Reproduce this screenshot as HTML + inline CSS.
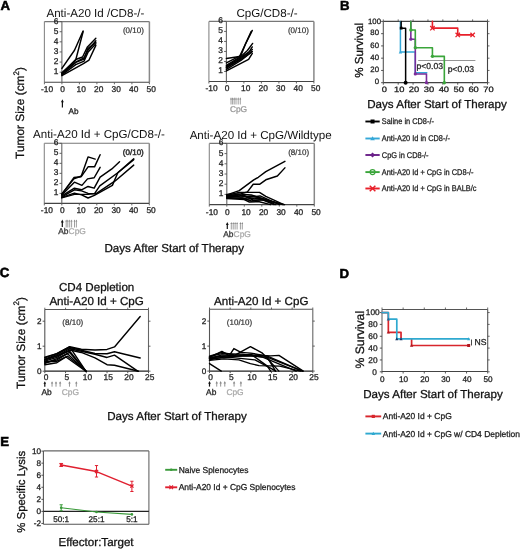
<!DOCTYPE html>
<html><head><meta charset="utf-8"><style>
html,body{margin:0;padding:0;background:#fff;}
body{width:520px;height:549px;overflow:hidden;}
svg{display:block;font-family:"Liberation Sans", sans-serif;will-change:transform;text-rendering:geometricPrecision;}
</style></head><body>
<svg width="520" height="549" viewBox="0 0 520 549">
<rect width="520" height="549" fill="#fff"/>
<text x="0.50" y="10.03" font-size="13.2" text-anchor="start" fill="#000" font-weight="bold"  stroke="#000" stroke-width="0.55">A</text>
<text x="340.00" y="10.33" font-size="13.2" text-anchor="start" fill="#000" font-weight="bold"  stroke="#000" stroke-width="0.55">B</text>
<text x="-0.30" y="277.33" font-size="13.2" text-anchor="start" fill="#000" font-weight="bold"  stroke="#000" stroke-width="0.55">C</text>
<text x="339.50" y="277.83" font-size="13.2" text-anchor="start" fill="#000" font-weight="bold"  stroke="#000" stroke-width="0.55">D</text>
<text x="0.20" y="446.13" font-size="13.2" text-anchor="start" fill="#000" font-weight="bold"  stroke="#000" stroke-width="0.55">E</text>
<line x1="44.40" y1="21.60" x2="149.40" y2="21.60" stroke="#777" stroke-width="1.1" />
<line x1="44.40" y1="21.60" x2="44.40" y2="82.30" stroke="#888" stroke-width="1.1" />
<line x1="149.40" y1="21.60" x2="149.40" y2="82.30" stroke="#888" stroke-width="1.5" />
<line x1="44.40" y1="82.30" x2="149.40" y2="82.30" stroke="#444" stroke-width="1.1" />
<line x1="61.90" y1="21.60" x2="61.90" y2="82.30" stroke="#666" stroke-width="1.1" />
<line x1="59.60" y1="72.18" x2="61.90" y2="72.18" stroke="#555" stroke-width="0.9" />
<text x="58.50" y="74.19" font-size="8.4" text-anchor="end" fill="#222" font-weight="normal"  stroke="#222" stroke-width="0.28">1</text>
<line x1="59.60" y1="62.07" x2="61.90" y2="62.07" stroke="#555" stroke-width="0.9" />
<text x="58.50" y="64.07" font-size="8.4" text-anchor="end" fill="#222" font-weight="normal"  stroke="#222" stroke-width="0.28">2</text>
<line x1="59.60" y1="51.95" x2="61.90" y2="51.95" stroke="#555" stroke-width="0.9" />
<text x="58.50" y="53.96" font-size="8.4" text-anchor="end" fill="#222" font-weight="normal"  stroke="#222" stroke-width="0.28">3</text>
<line x1="59.60" y1="41.83" x2="61.90" y2="41.83" stroke="#555" stroke-width="0.9" />
<text x="58.50" y="43.84" font-size="8.4" text-anchor="end" fill="#222" font-weight="normal"  stroke="#222" stroke-width="0.28">4</text>
<line x1="59.60" y1="31.72" x2="61.90" y2="31.72" stroke="#555" stroke-width="0.9" />
<text x="58.50" y="33.72" font-size="8.4" text-anchor="end" fill="#222" font-weight="normal"  stroke="#222" stroke-width="0.28">5</text>
<line x1="59.60" y1="21.60" x2="61.90" y2="21.60" stroke="#555" stroke-width="0.9" />
<text x="58.50" y="23.61" font-size="8.4" text-anchor="end" fill="#222" font-weight="normal"  stroke="#222" stroke-width="0.28">6</text>
<line x1="44.40" y1="82.30" x2="44.40" y2="84.30" stroke="#555" stroke-width="0.9" />
<text x="47.00" y="92.21" font-size="8.4" text-anchor="middle" fill="#222" font-weight="normal"  stroke="#222" stroke-width="0.28">-10</text>
<line x1="61.90" y1="82.30" x2="61.90" y2="84.30" stroke="#555" stroke-width="0.9" />
<text x="62.50" y="92.21" font-size="8.4" text-anchor="middle" fill="#222" font-weight="normal"  stroke="#222" stroke-width="0.28">0</text>
<line x1="79.40" y1="82.30" x2="79.40" y2="84.30" stroke="#555" stroke-width="0.9" />
<text x="81.20" y="92.21" font-size="8.4" text-anchor="middle" fill="#222" font-weight="normal"  stroke="#222" stroke-width="0.28">10</text>
<line x1="96.90" y1="82.30" x2="96.90" y2="84.30" stroke="#555" stroke-width="0.9" />
<text x="98.70" y="92.21" font-size="8.4" text-anchor="middle" fill="#222" font-weight="normal"  stroke="#222" stroke-width="0.28">20</text>
<line x1="114.40" y1="82.30" x2="114.40" y2="84.30" stroke="#555" stroke-width="0.9" />
<text x="116.20" y="92.21" font-size="8.4" text-anchor="middle" fill="#222" font-weight="normal"  stroke="#222" stroke-width="0.28">30</text>
<line x1="131.90" y1="82.30" x2="131.90" y2="84.30" stroke="#555" stroke-width="0.9" />
<text x="133.70" y="92.21" font-size="8.4" text-anchor="middle" fill="#222" font-weight="normal"  stroke="#222" stroke-width="0.28">40</text>
<line x1="149.40" y1="82.30" x2="149.40" y2="84.30" stroke="#555" stroke-width="0.9" />
<text x="151.20" y="92.21" font-size="8.4" text-anchor="middle" fill="#222" font-weight="normal"  stroke="#222" stroke-width="0.28">50</text>
<polyline points="61.90,68.44 74.50,50.23 83.08,31.01" fill="none" stroke="#000" stroke-width="1.45" stroke-linejoin="round" stroke-linecap="round" />
<polyline points="61.90,72.69 75.72,60.04 83.08,31.72" fill="none" stroke="#000" stroke-width="1.45" stroke-linejoin="round" stroke-linecap="round" />
<polyline points="61.90,73.70 75.72,59.54 82.55,57.01 87.45,46.89 95.85,38.29" fill="none" stroke="#000" stroke-width="1.45" stroke-linejoin="round" stroke-linecap="round" />
<polyline points="61.90,74.21 75.72,62.37 84.12,59.13 87.80,48.61 95.85,42.34" fill="none" stroke="#000" stroke-width="1.45" stroke-linejoin="round" stroke-linecap="round" />
<polyline points="61.90,75.02 75.72,64.60 84.12,61.05 88.15,51.95 95.85,43.86" fill="none" stroke="#000" stroke-width="1.45" stroke-linejoin="round" stroke-linecap="round" />
<polyline points="61.90,75.72 83.42,63.58 89.03,60.04 95.85,45.37" fill="none" stroke="#000" stroke-width="1.45" stroke-linejoin="round" stroke-linecap="round" />
<polyline points="61.90,73.19 75.72,62.07 83.78,58.02 88.15,49.93 95.85,40.82" fill="none" stroke="#000" stroke-width="1.45" stroke-linejoin="round" stroke-linecap="round" />
<text x="95.40" y="17.30" font-size="11.6" text-anchor="middle" fill="#111" font-weight="normal" >Anti-A20 Id /CD8-/-</text>
<text x="133.40" y="33.46" font-size="8" text-anchor="middle" fill="#333" font-weight="normal"  stroke="#333" stroke-width="0.2">(0/10)</text>
<line x1="208.90" y1="21.40" x2="313.90" y2="21.40" stroke="#777" stroke-width="1.1" />
<line x1="208.90" y1="21.40" x2="208.90" y2="81.50" stroke="#888" stroke-width="1.1" />
<line x1="313.90" y1="21.40" x2="313.90" y2="81.50" stroke="#888" stroke-width="1.5" />
<line x1="208.90" y1="81.50" x2="313.90" y2="81.50" stroke="#444" stroke-width="1.1" />
<line x1="226.40" y1="21.40" x2="226.40" y2="81.50" stroke="#666" stroke-width="1.1" />
<line x1="224.10" y1="71.48" x2="226.40" y2="71.48" stroke="#555" stroke-width="0.9" />
<text x="223.00" y="73.49" font-size="8.4" text-anchor="end" fill="#222" font-weight="normal"  stroke="#222" stroke-width="0.28">1</text>
<line x1="224.10" y1="61.47" x2="226.40" y2="61.47" stroke="#555" stroke-width="0.9" />
<text x="223.00" y="63.47" font-size="8.4" text-anchor="end" fill="#222" font-weight="normal"  stroke="#222" stroke-width="0.28">2</text>
<line x1="224.10" y1="51.45" x2="226.40" y2="51.45" stroke="#555" stroke-width="0.9" />
<text x="223.00" y="53.46" font-size="8.4" text-anchor="end" fill="#222" font-weight="normal"  stroke="#222" stroke-width="0.28">3</text>
<line x1="224.10" y1="41.43" x2="226.40" y2="41.43" stroke="#555" stroke-width="0.9" />
<text x="223.00" y="43.44" font-size="8.4" text-anchor="end" fill="#222" font-weight="normal"  stroke="#222" stroke-width="0.28">4</text>
<line x1="224.10" y1="31.42" x2="226.40" y2="31.42" stroke="#555" stroke-width="0.9" />
<text x="223.00" y="33.42" font-size="8.4" text-anchor="end" fill="#222" font-weight="normal"  stroke="#222" stroke-width="0.28">5</text>
<line x1="224.10" y1="21.40" x2="226.40" y2="21.40" stroke="#555" stroke-width="0.9" />
<text x="223.00" y="23.41" font-size="8.4" text-anchor="end" fill="#222" font-weight="normal"  stroke="#222" stroke-width="0.28">6</text>
<line x1="208.90" y1="81.50" x2="208.90" y2="83.50" stroke="#555" stroke-width="0.9" />
<text x="211.50" y="91.41" font-size="8.4" text-anchor="middle" fill="#222" font-weight="normal"  stroke="#222" stroke-width="0.28">-10</text>
<line x1="226.40" y1="81.50" x2="226.40" y2="83.50" stroke="#555" stroke-width="0.9" />
<text x="227.00" y="91.41" font-size="8.4" text-anchor="middle" fill="#222" font-weight="normal"  stroke="#222" stroke-width="0.28">0</text>
<line x1="243.90" y1="81.50" x2="243.90" y2="83.50" stroke="#555" stroke-width="0.9" />
<text x="245.70" y="91.41" font-size="8.4" text-anchor="middle" fill="#222" font-weight="normal"  stroke="#222" stroke-width="0.28">10</text>
<line x1="261.40" y1="81.50" x2="261.40" y2="83.50" stroke="#555" stroke-width="0.9" />
<text x="263.20" y="91.41" font-size="8.4" text-anchor="middle" fill="#222" font-weight="normal"  stroke="#222" stroke-width="0.28">20</text>
<line x1="278.90" y1="81.50" x2="278.90" y2="83.50" stroke="#555" stroke-width="0.9" />
<text x="280.70" y="91.41" font-size="8.4" text-anchor="middle" fill="#222" font-weight="normal"  stroke="#222" stroke-width="0.28">30</text>
<line x1="296.40" y1="81.50" x2="296.40" y2="83.50" stroke="#555" stroke-width="0.9" />
<text x="298.20" y="91.41" font-size="8.4" text-anchor="middle" fill="#222" font-weight="normal"  stroke="#222" stroke-width="0.28">40</text>
<line x1="313.90" y1="81.50" x2="313.90" y2="83.50" stroke="#555" stroke-width="0.9" />
<text x="315.70" y="91.41" font-size="8.4" text-anchor="middle" fill="#222" font-weight="normal"  stroke="#222" stroke-width="0.28">50</text>
<polyline points="226.40,58.46 239.53,56.46 244.78,45.44 252.30,30.41" fill="none" stroke="#000" stroke-width="1.45" stroke-linejoin="round" stroke-linecap="round" />
<polyline points="226.40,62.97 240.93,55.46 245.65,43.44 251.25,31.42" fill="none" stroke="#000" stroke-width="1.45" stroke-linejoin="round" stroke-linecap="round" />
<polyline points="226.40,65.47 240.93,56.46 247.40,50.45 252.65,43.44" fill="none" stroke="#000" stroke-width="1.45" stroke-linejoin="round" stroke-linecap="round" />
<polyline points="226.40,66.47 240.93,57.46 249.15,51.95 252.30,46.94" fill="none" stroke="#000" stroke-width="1.45" stroke-linejoin="round" stroke-linecap="round" />
<polyline points="226.40,67.98 240.93,58.46 252.30,49.45" fill="none" stroke="#000" stroke-width="1.45" stroke-linejoin="round" stroke-linecap="round" />
<polyline points="226.40,69.48 240.93,60.46 251.78,51.95" fill="none" stroke="#000" stroke-width="1.45" stroke-linejoin="round" stroke-linecap="round" />
<polyline points="226.40,70.98 248.62,59.46 252.30,53.45" fill="none" stroke="#000" stroke-width="1.45" stroke-linejoin="round" stroke-linecap="round" />
<polyline points="226.40,67.48 240.93,59.46 252.30,51.45" fill="none" stroke="#000" stroke-width="1.45" stroke-linejoin="round" stroke-linecap="round" />
<text x="267.00" y="17.00" font-size="11.6" text-anchor="middle" fill="#111" font-weight="normal" >CpG/CD8-/-</text>
<text x="298.40" y="33.46" font-size="8" text-anchor="middle" fill="#333" font-weight="normal"  stroke="#333" stroke-width="0.2">(0/10)</text>
<line x1="44.30" y1="143.30" x2="149.30" y2="143.30" stroke="#777" stroke-width="1.1" />
<line x1="44.30" y1="143.30" x2="44.30" y2="203.40" stroke="#888" stroke-width="1.1" />
<line x1="149.30" y1="143.30" x2="149.30" y2="203.40" stroke="#888" stroke-width="1.5" />
<line x1="44.30" y1="203.40" x2="149.30" y2="203.40" stroke="#444" stroke-width="1.1" />
<line x1="61.80" y1="143.30" x2="61.80" y2="203.40" stroke="#666" stroke-width="1.1" />
<line x1="59.50" y1="193.38" x2="61.80" y2="193.38" stroke="#555" stroke-width="0.9" />
<text x="58.40" y="195.39" font-size="8.4" text-anchor="end" fill="#222" font-weight="normal"  stroke="#222" stroke-width="0.28">1</text>
<line x1="59.50" y1="183.37" x2="61.80" y2="183.37" stroke="#555" stroke-width="0.9" />
<text x="58.40" y="185.37" font-size="8.4" text-anchor="end" fill="#222" font-weight="normal"  stroke="#222" stroke-width="0.28">2</text>
<line x1="59.50" y1="173.35" x2="61.80" y2="173.35" stroke="#555" stroke-width="0.9" />
<text x="58.40" y="175.36" font-size="8.4" text-anchor="end" fill="#222" font-weight="normal"  stroke="#222" stroke-width="0.28">3</text>
<line x1="59.50" y1="163.33" x2="61.80" y2="163.33" stroke="#555" stroke-width="0.9" />
<text x="58.40" y="165.34" font-size="8.4" text-anchor="end" fill="#222" font-weight="normal"  stroke="#222" stroke-width="0.28">4</text>
<line x1="59.50" y1="153.32" x2="61.80" y2="153.32" stroke="#555" stroke-width="0.9" />
<text x="58.40" y="155.32" font-size="8.4" text-anchor="end" fill="#222" font-weight="normal"  stroke="#222" stroke-width="0.28">5</text>
<line x1="59.50" y1="143.30" x2="61.80" y2="143.30" stroke="#555" stroke-width="0.9" />
<text x="58.40" y="145.31" font-size="8.4" text-anchor="end" fill="#222" font-weight="normal"  stroke="#222" stroke-width="0.28">6</text>
<line x1="44.30" y1="203.40" x2="44.30" y2="205.40" stroke="#555" stroke-width="0.9" />
<text x="46.90" y="213.31" font-size="8.4" text-anchor="middle" fill="#222" font-weight="normal"  stroke="#222" stroke-width="0.28">-10</text>
<line x1="61.80" y1="203.40" x2="61.80" y2="205.40" stroke="#555" stroke-width="0.9" />
<text x="62.40" y="213.31" font-size="8.4" text-anchor="middle" fill="#222" font-weight="normal"  stroke="#222" stroke-width="0.28">0</text>
<line x1="79.30" y1="203.40" x2="79.30" y2="205.40" stroke="#555" stroke-width="0.9" />
<text x="81.10" y="213.31" font-size="8.4" text-anchor="middle" fill="#222" font-weight="normal"  stroke="#222" stroke-width="0.28">10</text>
<line x1="96.80" y1="203.40" x2="96.80" y2="205.40" stroke="#555" stroke-width="0.9" />
<text x="98.60" y="213.31" font-size="8.4" text-anchor="middle" fill="#222" font-weight="normal"  stroke="#222" stroke-width="0.28">20</text>
<line x1="114.30" y1="203.40" x2="114.30" y2="205.40" stroke="#555" stroke-width="0.9" />
<text x="116.10" y="213.31" font-size="8.4" text-anchor="middle" fill="#222" font-weight="normal"  stroke="#222" stroke-width="0.28">30</text>
<line x1="131.80" y1="203.40" x2="131.80" y2="205.40" stroke="#555" stroke-width="0.9" />
<text x="133.60" y="213.31" font-size="8.4" text-anchor="middle" fill="#222" font-weight="normal"  stroke="#222" stroke-width="0.28">40</text>
<line x1="149.30" y1="203.40" x2="149.30" y2="205.40" stroke="#555" stroke-width="0.9" />
<text x="151.10" y="213.31" font-size="8.4" text-anchor="middle" fill="#222" font-weight="normal"  stroke="#222" stroke-width="0.28">50</text>
<polyline points="61.80,194.39 73.88,177.56 81.05,176.66 88.05,156.92 95.22,159.13" fill="none" stroke="#000" stroke-width="1.45" stroke-linejoin="round" stroke-linecap="round" />
<polyline points="61.80,194.89 74.40,182.16 81.92,185.37 87.52,178.86 94.17,177.76 100.12,167.34" fill="none" stroke="#000" stroke-width="1.45" stroke-linejoin="round" stroke-linecap="round" />
<polyline points="61.80,193.88 73.88,178.86 81.58,176.05 88.05,166.84 94.53,166.84 100.12,154.72" fill="none" stroke="#000" stroke-width="1.45" stroke-linejoin="round" stroke-linecap="round" />
<polyline points="61.80,195.89 74.40,188.17 81.58,189.78 88.05,186.47 94.17,188.17 100.12,177.16 111.85,168.94 119.55,161.83" fill="none" stroke="#000" stroke-width="1.45" stroke-linejoin="round" stroke-linecap="round" />
<polyline points="61.80,196.89 74.40,189.78 81.58,190.88 88.05,193.38 94.35,193.88 99.78,185.87 117.80,172.75 133.72,159.63" fill="none" stroke="#000" stroke-width="1.45" stroke-linejoin="round" stroke-linecap="round" />
<polyline points="61.80,197.39 74.40,193.08 81.58,194.89 88.05,197.99 94.35,195.39 112.38,185.37 117.80,172.75 133.72,158.83" fill="none" stroke="#000" stroke-width="1.45" stroke-linejoin="round" stroke-linecap="round" />
<polyline points="61.80,197.89 74.40,194.39 88.05,194.39 96.45,193.38 115.17,180.96 133.72,165.14" fill="none" stroke="#000" stroke-width="1.45" stroke-linejoin="round" stroke-linecap="round" />
<text x="99.00" y="138.40" font-size="11.6" text-anchor="middle" fill="#111" font-weight="normal" >Anti-A20 Id + CpG/CD8-/-</text>
<text x="133.30" y="155.46" font-size="8" text-anchor="middle" fill="#333" font-weight="normal"  stroke="#333" stroke-width="0.5">(0/10)</text>
<line x1="209.30" y1="143.40" x2="314.30" y2="143.40" stroke="#777" stroke-width="1.1" />
<line x1="209.30" y1="143.40" x2="209.30" y2="204.60" stroke="#888" stroke-width="1.1" />
<line x1="314.30" y1="143.40" x2="314.30" y2="204.60" stroke="#888" stroke-width="1.5" />
<line x1="209.30" y1="204.60" x2="314.30" y2="204.60" stroke="#444" stroke-width="1.1" />
<line x1="226.80" y1="143.40" x2="226.80" y2="204.60" stroke="#666" stroke-width="1.1" />
<line x1="224.50" y1="194.40" x2="226.80" y2="194.40" stroke="#555" stroke-width="0.9" />
<text x="223.40" y="196.41" font-size="8.4" text-anchor="end" fill="#222" font-weight="normal"  stroke="#222" stroke-width="0.28">1</text>
<line x1="224.50" y1="184.20" x2="226.80" y2="184.20" stroke="#555" stroke-width="0.9" />
<text x="223.40" y="186.21" font-size="8.4" text-anchor="end" fill="#222" font-weight="normal"  stroke="#222" stroke-width="0.28">2</text>
<line x1="224.50" y1="174.00" x2="226.80" y2="174.00" stroke="#555" stroke-width="0.9" />
<text x="223.40" y="176.01" font-size="8.4" text-anchor="end" fill="#222" font-weight="normal"  stroke="#222" stroke-width="0.28">3</text>
<line x1="224.50" y1="163.80" x2="226.80" y2="163.80" stroke="#555" stroke-width="0.9" />
<text x="223.40" y="165.81" font-size="8.4" text-anchor="end" fill="#222" font-weight="normal"  stroke="#222" stroke-width="0.28">4</text>
<line x1="224.50" y1="153.60" x2="226.80" y2="153.60" stroke="#555" stroke-width="0.9" />
<text x="223.40" y="155.61" font-size="8.4" text-anchor="end" fill="#222" font-weight="normal"  stroke="#222" stroke-width="0.28">5</text>
<line x1="224.50" y1="143.40" x2="226.80" y2="143.40" stroke="#555" stroke-width="0.9" />
<text x="223.40" y="145.41" font-size="8.4" text-anchor="end" fill="#222" font-weight="normal"  stroke="#222" stroke-width="0.28">6</text>
<line x1="209.30" y1="204.60" x2="209.30" y2="206.60" stroke="#555" stroke-width="0.9" />
<text x="211.90" y="214.51" font-size="8.4" text-anchor="middle" fill="#222" font-weight="normal"  stroke="#222" stroke-width="0.28">-10</text>
<line x1="226.80" y1="204.60" x2="226.80" y2="206.60" stroke="#555" stroke-width="0.9" />
<text x="227.40" y="214.51" font-size="8.4" text-anchor="middle" fill="#222" font-weight="normal"  stroke="#222" stroke-width="0.28">0</text>
<line x1="244.30" y1="204.60" x2="244.30" y2="206.60" stroke="#555" stroke-width="0.9" />
<text x="246.10" y="214.51" font-size="8.4" text-anchor="middle" fill="#222" font-weight="normal"  stroke="#222" stroke-width="0.28">10</text>
<line x1="261.80" y1="204.60" x2="261.80" y2="206.60" stroke="#555" stroke-width="0.9" />
<text x="263.60" y="214.51" font-size="8.4" text-anchor="middle" fill="#222" font-weight="normal"  stroke="#222" stroke-width="0.28">20</text>
<line x1="279.30" y1="204.60" x2="279.30" y2="206.60" stroke="#555" stroke-width="0.9" />
<text x="281.10" y="214.51" font-size="8.4" text-anchor="middle" fill="#222" font-weight="normal"  stroke="#222" stroke-width="0.28">30</text>
<line x1="296.80" y1="204.60" x2="296.80" y2="206.60" stroke="#555" stroke-width="0.9" />
<text x="298.60" y="214.51" font-size="8.4" text-anchor="middle" fill="#222" font-weight="normal"  stroke="#222" stroke-width="0.28">40</text>
<line x1="314.30" y1="204.60" x2="314.30" y2="206.60" stroke="#555" stroke-width="0.9" />
<text x="316.10" y="214.51" font-size="8.4" text-anchor="middle" fill="#222" font-weight="normal"  stroke="#222" stroke-width="0.28">50</text>
<polyline points="226.80,194.91 239.23,190.63 253.75,179.81 258.30,177.26 265.82,171.55 284.90,161.35" fill="none" stroke="#000" stroke-width="1.45" stroke-linejoin="round" stroke-linecap="round" />
<polyline points="226.80,195.93 240.80,193.89 247.45,191.85 253.23,184.30 259.53,184.30 265.82,179.81 277.38,176.04 284.90,167.88" fill="none" stroke="#000" stroke-width="1.45" stroke-linejoin="round" stroke-linecap="round" />
<polyline points="226.80,195.42 239.05,192.36 259.53,192.36 265.82,196.34 283.85,204.60" fill="none" stroke="#000" stroke-width="1.45" stroke-linejoin="round" stroke-linecap="round" />
<polyline points="226.80,196.44 239.05,194.91 247.80,197.46 260.05,195.93 279.30,204.60" fill="none" stroke="#000" stroke-width="1.45" stroke-linejoin="round" stroke-linecap="round" />
<polyline points="226.80,196.95 244.30,195.42 253.05,200.01 265.30,200.01 275.80,204.60" fill="none" stroke="#000" stroke-width="1.45" stroke-linejoin="round" stroke-linecap="round" />
<polyline points="226.80,198.48 244.30,199.50 249.38,202.05 258.30,201.54 270.55,204.60" fill="none" stroke="#000" stroke-width="1.45" stroke-linejoin="round" stroke-linecap="round" />
<polyline points="226.80,195.42 240.80,196.95 253.05,195.93 265.30,199.50 282.80,204.60" fill="none" stroke="#000" stroke-width="1.45" stroke-linejoin="round" stroke-linecap="round" />
<polyline points="226.80,197.46 247.80,198.99 256.55,197.97 270.55,201.54 284.55,204.60" fill="none" stroke="#000" stroke-width="1.45" stroke-linejoin="round" stroke-linecap="round" />
<polyline points="226.80,194.40 237.30,193.89 251.30,194.91 261.80,198.48 279.30,203.58" fill="none" stroke="#000" stroke-width="1.45" stroke-linejoin="round" stroke-linecap="round" />
<polyline points="226.80,197.97 242.55,197.97 251.30,201.03 261.80,199.50 274.05,204.60" fill="none" stroke="#000" stroke-width="1.45" stroke-linejoin="round" stroke-linecap="round" />
<text x="260.70" y="138.60" font-size="11.6" text-anchor="middle" fill="#111" font-weight="normal" >Anti-A20 Id + CpG/Wildtype</text>
<text x="298.60" y="155.46" font-size="8" text-anchor="middle" fill="#333" font-weight="normal"  stroke="#333" stroke-width="0.2">(8/10)</text>
<line x1="62.40" y1="101.00" x2="62.40" y2="107.40" stroke="#111" stroke-width="1.2" />
<polygon points="61.00,102.20 62.40,99.20 63.80,102.20" fill="#111"/>
<text x="73.60" y="113.74" font-size="8.2" text-anchor="middle" fill="#222" font-weight="normal"  stroke="#222" stroke-width="0.28">Ab</text>
<line x1="231.00" y1="98.62" x2="231.00" y2="104.50" stroke="#888" stroke-width="0.8" />
<polygon points="230.10,99.50 231.00,97.30 231.90,99.50" fill="#888"/>
<line x1="232.60" y1="98.62" x2="232.60" y2="104.50" stroke="#888" stroke-width="0.8" />
<polygon points="231.70,99.50 232.60,97.30 233.50,99.50" fill="#888"/>
<line x1="234.20" y1="98.62" x2="234.20" y2="104.50" stroke="#888" stroke-width="0.8" />
<polygon points="233.30,99.50 234.20,97.30 235.10,99.50" fill="#888"/>
<line x1="236.00" y1="98.62" x2="236.00" y2="104.50" stroke="#888" stroke-width="0.8" />
<polygon points="235.10,99.50 236.00,97.30 236.90,99.50" fill="#888"/>
<line x1="238.20" y1="98.62" x2="238.20" y2="104.50" stroke="#888" stroke-width="0.8" />
<polygon points="237.30,99.50 238.20,97.30 239.10,99.50" fill="#888"/>
<line x1="240.30" y1="98.62" x2="240.30" y2="104.50" stroke="#888" stroke-width="0.8" />
<polygon points="239.40,99.50 240.30,97.30 241.20,99.50" fill="#888"/>
<text x="238.50" y="111.71" font-size="8.4" text-anchor="middle" fill="#999" font-weight="normal"  stroke="#999" stroke-width="0.28">CpG</text>
<line x1="62.30" y1="221.20" x2="62.30" y2="227.00" stroke="#111" stroke-width="1.2" />
<polygon points="60.90,222.40 62.30,219.40 63.70,222.40" fill="#111"/>
<line x1="66.20" y1="220.72" x2="66.20" y2="227.50" stroke="#888" stroke-width="0.8" />
<polygon points="65.30,221.60 66.20,219.40 67.10,221.60" fill="#888"/>
<line x1="67.80" y1="220.72" x2="67.80" y2="227.50" stroke="#888" stroke-width="0.8" />
<polygon points="66.90,221.60 67.80,219.40 68.70,221.60" fill="#888"/>
<line x1="69.70" y1="220.72" x2="69.70" y2="227.50" stroke="#888" stroke-width="0.8" />
<polygon points="68.80,221.60 69.70,219.40 70.60,221.60" fill="#888"/>
<line x1="71.60" y1="220.72" x2="71.60" y2="227.50" stroke="#888" stroke-width="0.8" />
<polygon points="70.70,221.60 71.60,219.40 72.50,221.60" fill="#888"/>
<line x1="74.50" y1="220.72" x2="74.50" y2="227.50" stroke="#888" stroke-width="0.8" />
<polygon points="73.60,221.60 74.50,219.40 75.40,221.60" fill="#888"/>
<line x1="76.40" y1="220.72" x2="76.40" y2="227.50" stroke="#888" stroke-width="0.8" />
<polygon points="75.50,221.60 76.40,219.40 77.30,221.60" fill="#888"/>
<text x="63.30" y="234.21" font-size="8.4" text-anchor="middle" fill="#333" font-weight="normal"  stroke="#333" stroke-width="0.28">Ab</text>
<text x="77.20" y="234.21" font-size="8.4" text-anchor="middle" fill="#aaa" font-weight="normal"  stroke="#aaa" stroke-width="0.28">CpG</text>
<line x1="227.30" y1="223.70" x2="227.30" y2="229.10" stroke="#111" stroke-width="1.2" />
<polygon points="225.90,224.90 227.30,221.90 228.70,224.90" fill="#111"/>
<line x1="231.30" y1="223.22" x2="231.30" y2="229.50" stroke="#888" stroke-width="0.8" />
<polygon points="230.40,224.10 231.30,221.90 232.20,224.10" fill="#888"/>
<line x1="233.20" y1="223.22" x2="233.20" y2="229.50" stroke="#888" stroke-width="0.8" />
<polygon points="232.30,224.10 233.20,221.90 234.10,224.10" fill="#888"/>
<line x1="235.10" y1="223.22" x2="235.10" y2="229.50" stroke="#888" stroke-width="0.8" />
<polygon points="234.20,224.10 235.10,221.90 236.00,224.10" fill="#888"/>
<line x1="237.10" y1="223.22" x2="237.10" y2="229.50" stroke="#888" stroke-width="0.8" />
<polygon points="236.20,224.10 237.10,221.90 238.00,224.10" fill="#888"/>
<line x1="240.40" y1="223.22" x2="240.40" y2="229.50" stroke="#888" stroke-width="0.8" />
<polygon points="239.50,224.10 240.40,221.90 241.30,224.10" fill="#888"/>
<line x1="242.30" y1="223.22" x2="242.30" y2="229.50" stroke="#888" stroke-width="0.8" />
<polygon points="241.40,224.10 242.30,221.90 243.20,224.10" fill="#888"/>
<text x="228.30" y="236.51" font-size="8.4" text-anchor="middle" fill="#333" font-weight="normal"  stroke="#333" stroke-width="0.28">Ab</text>
<text x="242.20" y="236.51" font-size="8.4" text-anchor="middle" fill="#aaa" font-weight="normal"  stroke="#aaa" stroke-width="0.28">CpG</text>
<text transform="translate(24.2,113) rotate(-90)" font-size="11.9" text-anchor="middle" fill="#111" stroke="#111" stroke-width="0.28">Tumor Size (cm<tspan font-size="8" dy="-5.2">2</tspan><tspan dy="5.2">)</tspan></text>
<text x="174.30" y="252.25" font-size="11.6" text-anchor="middle" fill="#111" font-weight="normal"  stroke="#111" stroke-width="0.28">Days After Start of Therapy</text>
<line x1="383.30" y1="21.40" x2="487.50" y2="21.40" stroke="#444" stroke-width="1.1" />
<line x1="487.50" y1="21.40" x2="487.50" y2="82.70" stroke="#444" stroke-width="1.1" />
<line x1="383.30" y1="21.40" x2="383.30" y2="82.70" stroke="#555" stroke-width="1.1" />
<line x1="383.30" y1="82.70" x2="487.50" y2="82.70" stroke="#444" stroke-width="1.2" />
<line x1="381.10" y1="82.70" x2="383.30" y2="82.70" stroke="#444" stroke-width="0.9" />
<line x1="487.50" y1="82.70" x2="489.50" y2="82.70" stroke="#444" stroke-width="0.8" />
<text x="379.00" y="84.39" font-size="7.8" text-anchor="end" fill="#222" font-weight="normal"  stroke="#222" stroke-width="0.28">0</text>
<line x1="381.10" y1="70.44" x2="383.30" y2="70.44" stroke="#444" stroke-width="0.9" />
<line x1="487.50" y1="70.44" x2="489.50" y2="70.44" stroke="#444" stroke-width="0.8" />
<text x="379.00" y="72.13" font-size="7.8" text-anchor="end" fill="#222" font-weight="normal"  stroke="#222" stroke-width="0.28">20</text>
<line x1="381.10" y1="58.18" x2="383.30" y2="58.18" stroke="#444" stroke-width="0.9" />
<line x1="487.50" y1="58.18" x2="489.50" y2="58.18" stroke="#444" stroke-width="0.8" />
<text x="379.00" y="59.87" font-size="7.8" text-anchor="end" fill="#222" font-weight="normal"  stroke="#222" stroke-width="0.28">40</text>
<line x1="381.10" y1="45.92" x2="383.30" y2="45.92" stroke="#444" stroke-width="0.9" />
<line x1="487.50" y1="45.92" x2="489.50" y2="45.92" stroke="#444" stroke-width="0.8" />
<text x="379.00" y="47.61" font-size="7.8" text-anchor="end" fill="#222" font-weight="normal"  stroke="#222" stroke-width="0.28">60</text>
<line x1="381.10" y1="33.66" x2="383.30" y2="33.66" stroke="#444" stroke-width="0.9" />
<line x1="487.50" y1="33.66" x2="489.50" y2="33.66" stroke="#444" stroke-width="0.8" />
<text x="379.00" y="35.35" font-size="7.8" text-anchor="end" fill="#222" font-weight="normal"  stroke="#222" stroke-width="0.28">80</text>
<line x1="381.10" y1="21.40" x2="383.30" y2="21.40" stroke="#444" stroke-width="0.9" />
<line x1="487.50" y1="21.40" x2="489.50" y2="21.40" stroke="#444" stroke-width="0.8" />
<text x="381.00" y="23.89" font-size="7.8" text-anchor="end" fill="#222" font-weight="normal"  stroke="#222" stroke-width="0.28">100</text>
<line x1="383.30" y1="82.70" x2="383.30" y2="84.70" stroke="#444" stroke-width="0.9" />
<line x1="383.30" y1="21.40" x2="383.30" y2="19.40" stroke="#444" stroke-width="0.8" />
<text x="0" y="0" transform="translate(384.30,92.39) scale(1.2,1)" font-size="7.8" text-anchor="middle" fill="#222" font-weight="normal"  stroke="#222" stroke-width="0.28">0</text>
<line x1="398.19" y1="82.70" x2="398.19" y2="84.70" stroke="#444" stroke-width="0.9" />
<line x1="398.19" y1="21.40" x2="398.19" y2="19.40" stroke="#444" stroke-width="0.8" />
<text x="0" y="0" transform="translate(399.19,92.39) scale(1.2,1)" font-size="7.8" text-anchor="middle" fill="#222" font-weight="normal"  stroke="#222" stroke-width="0.28">10</text>
<line x1="413.07" y1="82.70" x2="413.07" y2="84.70" stroke="#444" stroke-width="0.9" />
<line x1="413.07" y1="21.40" x2="413.07" y2="19.40" stroke="#444" stroke-width="0.8" />
<text x="0" y="0" transform="translate(414.07,92.39) scale(1.2,1)" font-size="7.8" text-anchor="middle" fill="#222" font-weight="normal"  stroke="#222" stroke-width="0.28">20</text>
<line x1="427.96" y1="82.70" x2="427.96" y2="84.70" stroke="#444" stroke-width="0.9" />
<line x1="427.96" y1="21.40" x2="427.96" y2="19.40" stroke="#444" stroke-width="0.8" />
<text x="0" y="0" transform="translate(428.96,92.39) scale(1.2,1)" font-size="7.8" text-anchor="middle" fill="#222" font-weight="normal"  stroke="#222" stroke-width="0.28">30</text>
<line x1="442.84" y1="82.70" x2="442.84" y2="84.70" stroke="#444" stroke-width="0.9" />
<line x1="442.84" y1="21.40" x2="442.84" y2="19.40" stroke="#444" stroke-width="0.8" />
<text x="0" y="0" transform="translate(443.84,92.39) scale(1.2,1)" font-size="7.8" text-anchor="middle" fill="#222" font-weight="normal"  stroke="#222" stroke-width="0.28">40</text>
<line x1="457.73" y1="82.70" x2="457.73" y2="84.70" stroke="#444" stroke-width="0.9" />
<line x1="457.73" y1="21.40" x2="457.73" y2="19.40" stroke="#444" stroke-width="0.8" />
<text x="0" y="0" transform="translate(458.73,92.39) scale(1.2,1)" font-size="7.8" text-anchor="middle" fill="#222" font-weight="normal"  stroke="#222" stroke-width="0.28">50</text>
<line x1="472.61" y1="82.70" x2="472.61" y2="84.70" stroke="#444" stroke-width="0.9" />
<line x1="472.61" y1="21.40" x2="472.61" y2="19.40" stroke="#444" stroke-width="0.8" />
<text x="0" y="0" transform="translate(473.61,92.39) scale(1.2,1)" font-size="7.8" text-anchor="middle" fill="#222" font-weight="normal"  stroke="#222" stroke-width="0.28">60</text>
<line x1="487.50" y1="82.70" x2="487.50" y2="84.70" stroke="#444" stroke-width="0.9" />
<line x1="487.50" y1="21.40" x2="487.50" y2="19.40" stroke="#444" stroke-width="0.8" />
<text x="0" y="0" transform="translate(488.50,92.39) scale(1.2,1)" font-size="7.8" text-anchor="middle" fill="#222" font-weight="normal"  stroke="#222" stroke-width="0.28">70</text>
<text transform="translate(362.6,50.4) rotate(-90)" font-size="11.6" text-anchor="middle" fill="#111" stroke="#111" stroke-width="0.28">% Survival</text>
<text x="437.00" y="108.45" font-size="11.6" text-anchor="middle" fill="#111" font-weight="normal"  stroke="#111" stroke-width="0.28">Days After Start of Therapy</text>
<line x1="418.20" y1="60.50" x2="475.40" y2="60.50" stroke="#888" stroke-width="0.9" />
<text x="429.70" y="69.28" font-size="8.6" text-anchor="middle" fill="#222" font-weight="normal"  stroke="#222" stroke-width="0.28">p&lt;0.03</text>
<text x="460.90" y="71.58" font-size="8.6" text-anchor="middle" fill="#222" font-weight="normal"  stroke="#222" stroke-width="0.28">p&lt;0.03</text>
<polyline points="400.42,21.40 400.42,21.40 400.42,52.05 415.30,52.05 415.30,72.71 426.77,72.71 426.77,72.71" fill="none" stroke="#35a8d8" stroke-width="1.5" stroke-linejoin="round" stroke-linecap="round" stroke-linecap="butt" stroke-linejoin="miter"/>
<polyline points="401.16,21.40 401.16,21.40 401.16,28.14 405.63,28.14 405.63,82.70" fill="none" stroke="#000" stroke-width="1.5" stroke-linejoin="round" stroke-linecap="round" stroke-linecap="butt" stroke-linejoin="miter"/>
<polyline points="410.84,21.40 410.84,21.40 410.84,39.18 415.30,39.18 415.30,73.93 426.47,73.93 426.47,82.70" fill="none" stroke="#7a2c9a" stroke-width="1.6" stroke-linejoin="round" stroke-linecap="round" stroke-linecap="butt" stroke-linejoin="miter"/>
<polyline points="410.84,21.40 410.84,21.40 410.84,29.98 415.30,29.98 415.30,47.76 432.42,47.76 432.42,56.34 444.33,56.34 444.33,82.70" fill="none" stroke="#3aa53a" stroke-width="1.6" stroke-linejoin="round" stroke-linecap="round" stroke-linecap="butt" stroke-linejoin="miter"/>
<polyline points="432.42,21.40 432.42,21.40 432.42,28.14 457.73,28.14 457.73,34.89 472.61,34.89 472.61,34.89" fill="none" stroke="#e8202a" stroke-width="1.6" stroke-linejoin="round" stroke-linecap="round" stroke-linecap="butt" stroke-linejoin="miter"/>
<rect x="399.76" y="26.74" width="2.8" height="2.8" fill="#000"/>
<circle cx="405.63" cy="82.70" r="2.0" fill="#000"/>
<polygon points="398.72,53.41 400.42,50.35 402.12,53.41" fill="#35a8d8"/>
<circle cx="410.84" cy="39.18" r="1.6" fill="#7a2c9a"/>
<circle cx="415.30" cy="73.93" r="1.6" fill="#7a2c9a"/>
<circle cx="426.47" cy="82.70" r="1.6" fill="#7a2c9a"/>
<circle cx="410.84" cy="29.98" r="1.7" fill="#3aa53a"/>
<circle cx="415.30" cy="47.76" r="1.7" fill="#3aa53a"/>
<circle cx="432.42" cy="56.34" r="1.7" fill="#3aa53a"/>
<circle cx="444.33" cy="82.70" r="1.7" fill="#3aa53a"/>
<line x1="430.22" y1="25.94" x2="434.62" y2="30.34" stroke="#e8202a" stroke-width="1.3" />
<line x1="430.22" y1="30.34" x2="434.62" y2="25.94" stroke="#e8202a" stroke-width="1.3" />
<line x1="455.53" y1="32.69" x2="459.93" y2="37.09" stroke="#e8202a" stroke-width="1.3" />
<line x1="455.53" y1="37.09" x2="459.93" y2="32.69" stroke="#e8202a" stroke-width="1.3" />
<line x1="470.41" y1="32.69" x2="474.81" y2="37.09" stroke="#e8202a" stroke-width="1.3" />
<line x1="470.41" y1="37.09" x2="474.81" y2="32.69" stroke="#e8202a" stroke-width="1.3" />
<line x1="365.40" y1="121.50" x2="379.70" y2="121.50" stroke="#000" stroke-width="1.9" />
<rect x="370.55" y="119.50" width="4.0" height="4.0" fill="#000"/>
<text x="0" y="0" transform="translate(381.80,124.47) scale(0.89,1)" font-size="8.3" text-anchor="start" fill="#222" font-weight="normal"  stroke="#222" stroke-width="0.28">Saline in CD8-/-</text>
<line x1="365.40" y1="138.50" x2="379.70" y2="138.50" stroke="#35a8d8" stroke-width="1.9" />
<polygon points="370.25,140.34 372.55,136.20 374.85,140.34" fill="#35a8d8"/>
<text x="0" y="0" transform="translate(381.80,141.47) scale(0.89,1)" font-size="8.3" text-anchor="start" fill="#222" font-weight="normal"  stroke="#222" stroke-width="0.28">Anti-A20 Id in CD8-/-</text>
<line x1="365.40" y1="155.00" x2="379.70" y2="155.00" stroke="#6a2088" stroke-width="1.9" />
<polygon points="369.95,155.00 372.55,152.40 375.15,155.00 372.55,157.60" fill="#6a2088"/>
<text x="0" y="0" transform="translate(381.80,157.97) scale(0.89,1)" font-size="8.3" text-anchor="start" fill="#222" font-weight="normal"  stroke="#222" stroke-width="0.28">CpG in CD8-/-</text>
<line x1="365.40" y1="172.10" x2="379.70" y2="172.10" stroke="#3aa53a" stroke-width="1.9" />
<circle cx="372.55" cy="172.10" r="2.5" fill="none" stroke="#3aa53a" stroke-width="1.2"/>
<text x="0" y="0" transform="translate(381.80,175.07) scale(0.89,1)" font-size="8.3" text-anchor="start" fill="#222" font-weight="normal"  stroke="#222" stroke-width="0.28">Anti-A20 Id + CpG in CD8-/-</text>
<line x1="365.40" y1="188.50" x2="379.70" y2="188.50" stroke="#e8202a" stroke-width="1.9" />
<line x1="369.75" y1="185.70" x2="375.35" y2="191.30" stroke="#e8202a" stroke-width="1.5" />
<line x1="369.75" y1="191.30" x2="375.35" y2="185.70" stroke="#e8202a" stroke-width="1.5" />
<text x="0" y="0" transform="translate(381.80,191.47) scale(0.89,1)" font-size="8.3" text-anchor="start" fill="#222" font-weight="normal"  stroke="#222" stroke-width="0.28">Anti-A20 Id + CpG in BALB/c</text>
<line x1="44.80" y1="309.50" x2="148.50" y2="309.50" stroke="#555" stroke-width="1.1" />
<line x1="148.50" y1="309.50" x2="148.50" y2="371.20" stroke="#666" stroke-width="1.1" />
<line x1="44.80" y1="309.50" x2="44.80" y2="371.20" stroke="#555" stroke-width="1.1" />
<line x1="44.80" y1="371.20" x2="148.50" y2="371.20" stroke="#222" stroke-width="1.2" />
<line x1="42.60" y1="371.20" x2="44.80" y2="371.20" stroke="#444" stroke-width="0.9" />
<line x1="148.50" y1="371.20" x2="150.50" y2="371.20" stroke="#444" stroke-width="0.8" />
<text x="41.60" y="374.14" font-size="8.2" text-anchor="end" fill="#222" font-weight="normal"  stroke="#222" stroke-width="0.28">0</text>
<line x1="42.60" y1="346.20" x2="44.80" y2="346.20" stroke="#444" stroke-width="0.9" />
<line x1="148.50" y1="346.20" x2="150.50" y2="346.20" stroke="#444" stroke-width="0.8" />
<text x="41.60" y="349.14" font-size="8.2" text-anchor="end" fill="#222" font-weight="normal"  stroke="#222" stroke-width="0.28">1</text>
<line x1="42.60" y1="321.20" x2="44.80" y2="321.20" stroke="#444" stroke-width="0.9" />
<line x1="148.50" y1="321.20" x2="150.50" y2="321.20" stroke="#444" stroke-width="0.8" />
<text x="41.60" y="324.14" font-size="8.2" text-anchor="end" fill="#222" font-weight="normal"  stroke="#222" stroke-width="0.28">2</text>
<line x1="44.80" y1="371.20" x2="44.80" y2="373.20" stroke="#444" stroke-width="0.9" />
<line x1="44.80" y1="309.50" x2="44.80" y2="307.70" stroke="#444" stroke-width="0.8" />
<text x="46.00" y="380.41" font-size="8.4" text-anchor="middle" fill="#222" font-weight="normal"  stroke="#222" stroke-width="0.28">0</text>
<line x1="65.54" y1="371.20" x2="65.54" y2="373.20" stroke="#444" stroke-width="0.9" />
<line x1="65.54" y1="309.50" x2="65.54" y2="307.70" stroke="#444" stroke-width="0.8" />
<text x="66.74" y="380.41" font-size="8.4" text-anchor="middle" fill="#222" font-weight="normal"  stroke="#222" stroke-width="0.28">5</text>
<line x1="86.28" y1="371.20" x2="86.28" y2="373.20" stroke="#444" stroke-width="0.9" />
<line x1="86.28" y1="309.50" x2="86.28" y2="307.70" stroke="#444" stroke-width="0.8" />
<text x="87.48" y="380.41" font-size="8.4" text-anchor="middle" fill="#222" font-weight="normal"  stroke="#222" stroke-width="0.28">10</text>
<line x1="107.02" y1="371.20" x2="107.02" y2="373.20" stroke="#444" stroke-width="0.9" />
<line x1="107.02" y1="309.50" x2="107.02" y2="307.70" stroke="#444" stroke-width="0.8" />
<text x="108.22" y="380.41" font-size="8.4" text-anchor="middle" fill="#222" font-weight="normal"  stroke="#222" stroke-width="0.28">15</text>
<line x1="127.76" y1="371.20" x2="127.76" y2="373.20" stroke="#444" stroke-width="0.9" />
<line x1="127.76" y1="309.50" x2="127.76" y2="307.70" stroke="#444" stroke-width="0.8" />
<text x="128.96" y="380.41" font-size="8.4" text-anchor="middle" fill="#222" font-weight="normal"  stroke="#222" stroke-width="0.28">20</text>
<line x1="148.50" y1="371.20" x2="148.50" y2="373.20" stroke="#444" stroke-width="0.9" />
<line x1="148.50" y1="309.50" x2="148.50" y2="307.70" stroke="#444" stroke-width="0.8" />
<text x="149.70" y="380.41" font-size="8.4" text-anchor="middle" fill="#222" font-weight="normal"  stroke="#222" stroke-width="0.28">25</text>
<polyline points="44.80,357.95 56.83,353.70 69.69,346.70 81.30,349.20 94.99,349.95 107.02,349.45 114.49,346.95 140.20,316.45" fill="none" stroke="#000" stroke-width="1.4" stroke-linejoin="round" stroke-linecap="round" />
<polyline points="44.80,359.20 56.83,354.70 69.69,347.45 81.30,350.20 94.99,353.45 107.02,353.70 114.49,351.70 140.20,357.95" fill="none" stroke="#000" stroke-width="1.4" stroke-linejoin="round" stroke-linecap="round" />
<polyline points="44.80,360.20 56.83,356.20 69.69,348.70 81.30,351.20 94.99,354.20 107.02,357.45 114.49,355.20 137.72,371.20" fill="none" stroke="#000" stroke-width="1.4" stroke-linejoin="round" stroke-linecap="round" />
<polyline points="44.80,361.20 56.83,357.45 69.69,349.95 81.30,352.45 94.99,357.95 107.02,364.70 114.49,365.20 138.54,371.20" fill="none" stroke="#000" stroke-width="1.4" stroke-linejoin="round" stroke-linecap="round" />
<polyline points="44.80,357.20 56.83,353.70 69.69,346.95 85.87,371.20" fill="none" stroke="#000" stroke-width="1.4" stroke-linejoin="round" stroke-linecap="round" />
<polyline points="44.80,362.70 56.83,359.95 67.61,353.70 85.87,371.20" fill="none" stroke="#000" stroke-width="1.4" stroke-linejoin="round" stroke-linecap="round" />
<polyline points="44.80,364.70 56.83,362.70 65.95,356.95 85.87,371.20" fill="none" stroke="#000" stroke-width="1.4" stroke-linejoin="round" stroke-linecap="round" />
<polyline points="44.80,359.70 56.83,355.70 69.69,351.20 85.87,371.20" fill="none" stroke="#000" stroke-width="1.4" stroke-linejoin="round" stroke-linecap="round" />
<polyline points="44.80,363.45 56.83,358.70 69.69,352.45 85.87,371.20" fill="none" stroke="#000" stroke-width="1.4" stroke-linejoin="round" stroke-linecap="round" />
<polyline points="44.80,361.70 56.83,361.20 67.61,356.20 86.28,371.20" fill="none" stroke="#000" stroke-width="1.4" stroke-linejoin="round" stroke-linecap="round" />
<text x="96.60" y="290.65" font-size="11.6" text-anchor="middle" fill="#111" font-weight="normal"  stroke="#111" stroke-width="0.28">CD4 Depletion</text>
<text x="96.60" y="305.45" font-size="11.6" text-anchor="middle" fill="#111" font-weight="normal"  stroke="#111" stroke-width="0.28">Anti-A20 Id + CpG</text>
<text x="72.80" y="325.26" font-size="8" text-anchor="middle" fill="#333" font-weight="normal"  stroke="#333" stroke-width="0.2">(8/10)</text>
<line x1="44.80" y1="382.76" x2="44.80" y2="386.70" stroke="#111" stroke-width="1.2" />
<polygon points="43.50,383.80 44.80,381.20 46.10,383.80" fill="#111"/>
<line x1="52.06" y1="382.64" x2="52.06" y2="386.70" stroke="#888" stroke-width="0.9" />
<polygon points="50.86,383.60 52.06,381.20 53.26,383.60" fill="#888"/>
<line x1="56.00" y1="382.64" x2="56.00" y2="386.70" stroke="#888" stroke-width="0.9" />
<polygon points="54.80,383.60 56.00,381.20 57.20,383.60" fill="#888"/>
<line x1="60.15" y1="382.64" x2="60.15" y2="386.70" stroke="#888" stroke-width="0.9" />
<polygon points="58.95,383.60 60.15,381.20 61.35,383.60" fill="#888"/>
<line x1="69.48" y1="382.64" x2="69.48" y2="386.70" stroke="#888" stroke-width="0.9" />
<polygon points="68.28,383.60 69.48,381.20 70.68,383.60" fill="#888"/>
<line x1="76.32" y1="382.64" x2="76.32" y2="386.70" stroke="#888" stroke-width="0.9" />
<polygon points="75.12,383.60 76.32,381.20 77.52,383.60" fill="#888"/>
<text x="46.50" y="395.01" font-size="8.4" text-anchor="middle" fill="#222" font-weight="normal"  stroke="#222" stroke-width="0.28">Ab</text>
<text x="70.30" y="395.01" font-size="8.4" text-anchor="middle" fill="#aaa" font-weight="normal"  stroke="#aaa" stroke-width="0.28">CpG</text>
<line x1="209.50" y1="309.30" x2="312.80" y2="309.30" stroke="#555" stroke-width="1.1" />
<line x1="312.80" y1="309.30" x2="312.80" y2="371.10" stroke="#666" stroke-width="1.1" />
<line x1="209.50" y1="309.30" x2="209.50" y2="371.10" stroke="#555" stroke-width="1.1" />
<line x1="209.50" y1="371.10" x2="312.80" y2="371.10" stroke="#222" stroke-width="1.2" />
<line x1="207.30" y1="371.10" x2="209.50" y2="371.10" stroke="#444" stroke-width="0.9" />
<line x1="312.80" y1="371.10" x2="314.80" y2="371.10" stroke="#444" stroke-width="0.8" />
<text x="206.30" y="374.04" font-size="8.2" text-anchor="end" fill="#222" font-weight="normal"  stroke="#222" stroke-width="0.28">0</text>
<line x1="207.30" y1="346.10" x2="209.50" y2="346.10" stroke="#444" stroke-width="0.9" />
<line x1="312.80" y1="346.10" x2="314.80" y2="346.10" stroke="#444" stroke-width="0.8" />
<text x="206.30" y="349.04" font-size="8.2" text-anchor="end" fill="#222" font-weight="normal"  stroke="#222" stroke-width="0.28">1</text>
<line x1="207.30" y1="321.10" x2="209.50" y2="321.10" stroke="#444" stroke-width="0.9" />
<line x1="312.80" y1="321.10" x2="314.80" y2="321.10" stroke="#444" stroke-width="0.8" />
<text x="206.30" y="324.04" font-size="8.2" text-anchor="end" fill="#222" font-weight="normal"  stroke="#222" stroke-width="0.28">2</text>
<line x1="209.50" y1="371.10" x2="209.50" y2="373.10" stroke="#444" stroke-width="0.9" />
<line x1="209.50" y1="309.30" x2="209.50" y2="307.50" stroke="#444" stroke-width="0.8" />
<text x="210.70" y="380.31" font-size="8.4" text-anchor="middle" fill="#222" font-weight="normal"  stroke="#222" stroke-width="0.28">0</text>
<line x1="230.16" y1="371.10" x2="230.16" y2="373.10" stroke="#444" stroke-width="0.9" />
<line x1="230.16" y1="309.30" x2="230.16" y2="307.50" stroke="#444" stroke-width="0.8" />
<text x="231.36" y="380.31" font-size="8.4" text-anchor="middle" fill="#222" font-weight="normal"  stroke="#222" stroke-width="0.28">5</text>
<line x1="250.82" y1="371.10" x2="250.82" y2="373.10" stroke="#444" stroke-width="0.9" />
<line x1="250.82" y1="309.30" x2="250.82" y2="307.50" stroke="#444" stroke-width="0.8" />
<text x="252.02" y="380.31" font-size="8.4" text-anchor="middle" fill="#222" font-weight="normal"  stroke="#222" stroke-width="0.28">10</text>
<line x1="271.48" y1="371.10" x2="271.48" y2="373.10" stroke="#444" stroke-width="0.9" />
<line x1="271.48" y1="309.30" x2="271.48" y2="307.50" stroke="#444" stroke-width="0.8" />
<text x="272.68" y="380.31" font-size="8.4" text-anchor="middle" fill="#222" font-weight="normal"  stroke="#222" stroke-width="0.28">15</text>
<line x1="292.14" y1="371.10" x2="292.14" y2="373.10" stroke="#444" stroke-width="0.9" />
<line x1="292.14" y1="309.30" x2="292.14" y2="307.50" stroke="#444" stroke-width="0.8" />
<text x="293.34" y="380.31" font-size="8.4" text-anchor="middle" fill="#222" font-weight="normal"  stroke="#222" stroke-width="0.28">20</text>
<line x1="312.80" y1="371.10" x2="312.80" y2="373.10" stroke="#444" stroke-width="0.9" />
<line x1="312.80" y1="309.30" x2="312.80" y2="307.50" stroke="#444" stroke-width="0.8" />
<text x="314.00" y="380.31" font-size="8.4" text-anchor="middle" fill="#222" font-weight="normal"  stroke="#222" stroke-width="0.28">25</text>
<polyline points="209.50,357.35 221.90,351.35 229.33,355.60 233.88,348.60 240.90,352.35 250.82,353.10 267.35,356.10 302.47,371.10" fill="none" stroke="#000" stroke-width="1.4" stroke-linejoin="round" stroke-linecap="round" />
<polyline points="209.50,358.60 221.90,354.85 234.29,355.60 240.90,351.85 250.41,346.60 261.98,352.85 264.87,355.85 278.92,371.10" fill="none" stroke="#000" stroke-width="1.4" stroke-linejoin="round" stroke-linecap="round" />
<polyline points="209.50,356.10 221.90,352.35 234.29,354.85 250.82,354.85 270.65,355.85 278.92,355.35 303.30,371.10" fill="none" stroke="#000" stroke-width="1.4" stroke-linejoin="round" stroke-linecap="round" />
<polyline points="209.50,359.85 221.90,357.35 238.42,356.10 250.82,354.10 267.35,366.10 270.65,371.10" fill="none" stroke="#000" stroke-width="1.4" stroke-linejoin="round" stroke-linecap="round" />
<polyline points="209.50,360.35 223.96,358.85 238.84,359.85 250.41,363.60 259.08,365.60 279.74,366.10 300.40,371.10" fill="none" stroke="#000" stroke-width="1.4" stroke-linejoin="round" stroke-linecap="round" />
<polyline points="209.50,357.35 221.90,356.10 250.82,355.60 267.35,357.35 275.61,371.10" fill="none" stroke="#000" stroke-width="1.4" stroke-linejoin="round" stroke-linecap="round" />
<polyline points="209.50,356.60 221.90,353.60 242.56,354.10 263.22,357.35 296.27,371.10" fill="none" stroke="#000" stroke-width="1.4" stroke-linejoin="round" stroke-linecap="round" />
<polyline points="209.50,363.60 221.28,371.10" fill="none" stroke="#000" stroke-width="1.4" stroke-linejoin="round" stroke-linecap="round" />
<polyline points="209.50,358.60 230.16,357.35 254.95,359.85 271.48,368.60 275.61,371.10" fill="none" stroke="#000" stroke-width="1.4" stroke-linejoin="round" stroke-linecap="round" />
<polyline points="209.50,358.10 226.03,356.10 246.69,356.10 263.22,355.60 302.47,371.10" fill="none" stroke="#000" stroke-width="1.4" stroke-linejoin="round" stroke-linecap="round" />
<text x="261.20" y="305.45" font-size="11.6" text-anchor="middle" fill="#111" font-weight="normal"  stroke="#111" stroke-width="0.28">Anti-A20 Id + CpG</text>
<text x="239.50" y="324.76" font-size="8" text-anchor="middle" fill="#333" font-weight="normal"  stroke="#333" stroke-width="0.2">(10/10)</text>
<line x1="209.50" y1="382.66" x2="209.50" y2="386.60" stroke="#111" stroke-width="1.2" />
<polygon points="208.20,383.70 209.50,381.10 210.80,383.70" fill="#111"/>
<line x1="216.73" y1="382.54" x2="216.73" y2="386.60" stroke="#888" stroke-width="0.9" />
<polygon points="215.53,383.50 216.73,381.10 217.93,383.50" fill="#888"/>
<line x1="220.66" y1="382.54" x2="220.66" y2="386.60" stroke="#888" stroke-width="0.9" />
<polygon points="219.46,383.50 220.66,381.10 221.86,383.50" fill="#888"/>
<line x1="224.79" y1="382.54" x2="224.79" y2="386.60" stroke="#888" stroke-width="0.9" />
<polygon points="223.59,383.50 224.79,381.10 225.99,383.50" fill="#888"/>
<line x1="234.09" y1="382.54" x2="234.09" y2="386.60" stroke="#888" stroke-width="0.9" />
<polygon points="232.89,383.50 234.09,381.10 235.29,383.50" fill="#888"/>
<line x1="240.90" y1="382.54" x2="240.90" y2="386.60" stroke="#888" stroke-width="0.9" />
<polygon points="239.70,383.50 240.90,381.10 242.10,383.50" fill="#888"/>
<text x="211.20" y="394.91" font-size="8.4" text-anchor="middle" fill="#222" font-weight="normal"  stroke="#222" stroke-width="0.28">Ab</text>
<text x="235.00" y="394.91" font-size="8.4" text-anchor="middle" fill="#aaa" font-weight="normal"  stroke="#aaa" stroke-width="0.28">CpG</text>
<text transform="translate(24.6,343) rotate(-90)" font-size="11.9" text-anchor="middle" fill="#111" stroke="#111" stroke-width="0.28">Tumor Size (cm<tspan font-size="8" dy="-5.2">2</tspan><tspan dy="5.2">)</tspan></text>
<text x="177.00" y="419.55" font-size="11.6" text-anchor="middle" fill="#111" font-weight="normal"  stroke="#111" stroke-width="0.28">Days After Start of Therapy</text>
<line x1="382.00" y1="309.50" x2="487.70" y2="309.50" stroke="#555" stroke-width="1.1" />
<line x1="487.70" y1="309.50" x2="487.70" y2="371.50" stroke="#555" stroke-width="1.1" />
<line x1="382.00" y1="309.50" x2="382.00" y2="371.50" stroke="#666" stroke-width="1.1" />
<line x1="382.00" y1="371.50" x2="487.70" y2="371.50" stroke="#444" stroke-width="1.2" />
<line x1="379.80" y1="371.80" x2="382.00" y2="371.80" stroke="#444" stroke-width="0.9" />
<line x1="487.70" y1="371.80" x2="489.70" y2="371.80" stroke="#444" stroke-width="0.8" />
<text x="376.80" y="374.57" font-size="8.3" text-anchor="end" fill="#222" font-weight="normal"  stroke="#222" stroke-width="0.28">0</text>
<line x1="379.80" y1="359.95" x2="382.00" y2="359.95" stroke="#444" stroke-width="0.9" />
<line x1="487.70" y1="359.95" x2="489.70" y2="359.95" stroke="#444" stroke-width="0.8" />
<text x="377.50" y="362.72" font-size="8.3" text-anchor="end" fill="#222" font-weight="normal"  stroke="#222" stroke-width="0.28">20</text>
<line x1="379.80" y1="348.10" x2="382.00" y2="348.10" stroke="#444" stroke-width="0.9" />
<line x1="487.70" y1="348.10" x2="489.70" y2="348.10" stroke="#444" stroke-width="0.8" />
<text x="377.50" y="350.87" font-size="8.3" text-anchor="end" fill="#222" font-weight="normal"  stroke="#222" stroke-width="0.28">40</text>
<line x1="379.80" y1="336.25" x2="382.00" y2="336.25" stroke="#444" stroke-width="0.9" />
<line x1="487.70" y1="336.25" x2="489.70" y2="336.25" stroke="#444" stroke-width="0.8" />
<text x="377.50" y="339.02" font-size="8.3" text-anchor="end" fill="#222" font-weight="normal"  stroke="#222" stroke-width="0.28">60</text>
<line x1="379.80" y1="324.40" x2="382.00" y2="324.40" stroke="#444" stroke-width="0.9" />
<line x1="487.70" y1="324.40" x2="489.70" y2="324.40" stroke="#444" stroke-width="0.8" />
<text x="377.50" y="327.17" font-size="8.3" text-anchor="end" fill="#222" font-weight="normal"  stroke="#222" stroke-width="0.28">80</text>
<line x1="379.80" y1="312.55" x2="382.00" y2="312.55" stroke="#444" stroke-width="0.9" />
<line x1="487.70" y1="312.55" x2="489.70" y2="312.55" stroke="#444" stroke-width="0.8" />
<text x="379.70" y="315.32" font-size="8.3" text-anchor="end" fill="#222" font-weight="normal"  stroke="#222" stroke-width="0.28">100</text>
<line x1="382.00" y1="371.50" x2="382.00" y2="373.50" stroke="#444" stroke-width="0.9" />
<line x1="382.00" y1="309.50" x2="382.00" y2="307.50" stroke="#444" stroke-width="0.8" />
<text x="382.40" y="382.04" font-size="8.2" text-anchor="middle" fill="#222" font-weight="normal"  stroke="#222" stroke-width="0.28">0</text>
<line x1="403.14" y1="371.50" x2="403.14" y2="373.50" stroke="#444" stroke-width="0.9" />
<line x1="403.14" y1="309.50" x2="403.14" y2="307.50" stroke="#444" stroke-width="0.8" />
<text x="403.54" y="382.04" font-size="8.2" text-anchor="middle" fill="#222" font-weight="normal"  stroke="#222" stroke-width="0.28">10</text>
<line x1="424.28" y1="371.50" x2="424.28" y2="373.50" stroke="#444" stroke-width="0.9" />
<line x1="424.28" y1="309.50" x2="424.28" y2="307.50" stroke="#444" stroke-width="0.8" />
<text x="424.68" y="382.04" font-size="8.2" text-anchor="middle" fill="#222" font-weight="normal"  stroke="#222" stroke-width="0.28">20</text>
<line x1="445.42" y1="371.50" x2="445.42" y2="373.50" stroke="#444" stroke-width="0.9" />
<line x1="445.42" y1="309.50" x2="445.42" y2="307.50" stroke="#444" stroke-width="0.8" />
<text x="445.82" y="382.04" font-size="8.2" text-anchor="middle" fill="#222" font-weight="normal"  stroke="#222" stroke-width="0.28">30</text>
<line x1="466.56" y1="371.50" x2="466.56" y2="373.50" stroke="#444" stroke-width="0.9" />
<line x1="466.56" y1="309.50" x2="466.56" y2="307.50" stroke="#444" stroke-width="0.8" />
<text x="466.96" y="382.04" font-size="8.2" text-anchor="middle" fill="#222" font-weight="normal"  stroke="#222" stroke-width="0.28">40</text>
<line x1="487.70" y1="371.50" x2="487.70" y2="373.50" stroke="#444" stroke-width="0.9" />
<line x1="487.70" y1="309.50" x2="487.70" y2="307.50" stroke="#444" stroke-width="0.8" />
<text x="488.10" y="382.04" font-size="8.2" text-anchor="middle" fill="#222" font-weight="normal"  stroke="#222" stroke-width="0.28">50</text>
<text transform="translate(363.6,339.7) rotate(-90)" font-size="12.2" text-anchor="middle" fill="#111" stroke="#111" stroke-width="0.28">% Survival</text>
<text x="433.00" y="397.85" font-size="11.6" text-anchor="middle" fill="#111" font-weight="normal"  stroke="#111" stroke-width="0.28">Days After Start of Therapy</text>
<polyline points="382.00,312.55 388.34,312.55 388.34,332.28 401.03,332.28 401.03,338.86" fill="none" stroke="#d8262c" stroke-width="1.7" stroke-linejoin="round" stroke-linecap="round" stroke-linecap="butt" stroke-linejoin="miter"/>
<polyline points="411.60,338.86 411.60,338.86 411.60,345.49 468.67,345.49 468.67,345.49" fill="none" stroke="#d8262c" stroke-width="1.7" stroke-linejoin="round" stroke-linecap="round" stroke-linecap="butt" stroke-linejoin="miter"/>
<polyline points="382.00,312.55 388.34,312.55 388.34,319.13 396.80,319.13 396.80,338.86 468.67,338.86 468.67,338.86" fill="none" stroke="#2fa9d0" stroke-width="1.7" stroke-linejoin="round" stroke-linecap="round" stroke-linecap="butt" stroke-linejoin="miter"/>
<polygon points="386.74,333.56 388.34,330.68 389.94,333.56" fill="#b01820"/>
<polygon points="409.90,346.85 411.60,343.79 413.30,346.85" fill="#b01820"/>
<rect x="467.17" y="343.99" width="3.0" height="3.0" fill="#b01820"/>
<polygon points="386.74,320.41 388.34,317.53 389.94,320.41" fill="#1e6a9a"/>
<polygon points="395.20,340.14 396.80,337.26 398.40,340.14" fill="#1a3a6a"/>
<polygon points="399.43,340.14 401.03,337.26 402.63,340.14" fill="#1a3a6a"/>
<polygon points="467.07,340.14 468.67,337.26 470.27,340.14" fill="#2fa9d0"/>
<line x1="471.50" y1="339.50" x2="471.50" y2="345.50" stroke="#333" stroke-width="0.9" />
<text x="480.40" y="344.88" font-size="8.6" text-anchor="middle" fill="#222" font-weight="normal"  stroke="#222" stroke-width="0.28">NS</text>
<line x1="365.40" y1="416.40" x2="381.20" y2="416.40" stroke="#d8262c" stroke-width="1.9" />
<rect x="371.70" y="414.80" width="3.2" height="3.2" fill="#d8262c"/>
<text x="0" y="0" transform="translate(382.80,419.48) scale(0.985,1)" font-size="8.6" text-anchor="start" fill="#222" font-weight="normal"  stroke="#222" stroke-width="0.28">Anti-A20 Id + CpG</text>
<line x1="365.40" y1="433.60" x2="381.20" y2="433.60" stroke="#2fa9d0" stroke-width="1.9" />
<polygon points="371.50,435.04 373.30,431.80 375.10,435.04" fill="#2fa9d0"/>
<text x="0" y="0" transform="translate(382.80,436.68) scale(0.985,1)" font-size="8.6" text-anchor="start" fill="#222" font-weight="normal"  stroke="#222" stroke-width="0.28">Anti-A20 Id + CpG w/ CD4 Depletion</text>
<line x1="43.40" y1="450.90" x2="148.90" y2="450.90" stroke="#666" stroke-width="1.1" />
<line x1="148.90" y1="450.90" x2="148.90" y2="524.30" stroke="#666" stroke-width="1.1" />
<line x1="43.40" y1="524.30" x2="148.90" y2="524.30" stroke="#555" stroke-width="1.1" />
<line x1="43.40" y1="450.90" x2="43.40" y2="524.30" stroke="#555" stroke-width="1.1" />
<line x1="43.40" y1="511.40" x2="148.90" y2="511.40" stroke="#222" stroke-width="1.1" />
<line x1="41.40" y1="523.46" x2="43.40" y2="523.46" stroke="#444" stroke-width="0.9" />
<text x="41.10" y="526.40" font-size="8.2" text-anchor="end" fill="#222" font-weight="normal"  stroke="#222" stroke-width="0.28">-2</text>
<line x1="41.40" y1="511.40" x2="43.40" y2="511.40" stroke="#444" stroke-width="0.9" />
<text x="41.10" y="514.34" font-size="8.2" text-anchor="end" fill="#222" font-weight="normal"  stroke="#222" stroke-width="0.28">0</text>
<line x1="41.40" y1="499.34" x2="43.40" y2="499.34" stroke="#444" stroke-width="0.9" />
<text x="41.10" y="502.28" font-size="8.2" text-anchor="end" fill="#222" font-weight="normal"  stroke="#222" stroke-width="0.28">2</text>
<line x1="41.40" y1="487.28" x2="43.40" y2="487.28" stroke="#444" stroke-width="0.9" />
<text x="41.10" y="490.22" font-size="8.2" text-anchor="end" fill="#222" font-weight="normal"  stroke="#222" stroke-width="0.28">4</text>
<line x1="41.40" y1="475.22" x2="43.40" y2="475.22" stroke="#444" stroke-width="0.9" />
<text x="41.10" y="478.16" font-size="8.2" text-anchor="end" fill="#222" font-weight="normal"  stroke="#222" stroke-width="0.28">6</text>
<line x1="41.40" y1="463.16" x2="43.40" y2="463.16" stroke="#444" stroke-width="0.9" />
<text x="41.10" y="466.10" font-size="8.2" text-anchor="end" fill="#222" font-weight="normal"  stroke="#222" stroke-width="0.28">8</text>
<line x1="41.40" y1="451.10" x2="43.40" y2="451.10" stroke="#444" stroke-width="0.9" />
<text x="41.10" y="454.04" font-size="8.2" text-anchor="end" fill="#222" font-weight="normal"  stroke="#222" stroke-width="0.28">10</text>
<text x="61.20" y="522.14" font-size="8.2" text-anchor="middle" fill="#222" font-weight="normal"  stroke="#222" stroke-width="0.28">50:1</text>
<text x="96.50" y="522.14" font-size="8.2" text-anchor="middle" fill="#222" font-weight="normal"  stroke="#222" stroke-width="0.28">25:1</text>
<text x="131.90" y="522.14" font-size="8.2" text-anchor="middle" fill="#222" font-weight="normal"  stroke="#222" stroke-width="0.28">5:1</text>
<polyline points="61.20,464.97 96.50,471.60 131.90,486.07" fill="none" stroke="#e02030" stroke-width="1.5" stroke-linejoin="round" stroke-linecap="round" />
<polyline points="61.20,507.78 96.50,512.00 131.90,514.41" fill="none" stroke="#3a9a3a" stroke-width="1.1" stroke-linejoin="round" stroke-linecap="round" />
<line x1="61.20" y1="463.46" x2="61.20" y2="466.48" stroke="#e02030" stroke-width="1.0" />
<line x1="59.60" y1="463.46" x2="62.80" y2="463.46" stroke="#e02030" stroke-width="1.0" />
<line x1="59.60" y1="466.48" x2="62.80" y2="466.48" stroke="#e02030" stroke-width="1.0" />
<line x1="96.50" y1="465.57" x2="96.50" y2="477.03" stroke="#e02030" stroke-width="1.0" />
<line x1="94.90" y1="465.57" x2="98.10" y2="465.57" stroke="#e02030" stroke-width="1.0" />
<line x1="94.90" y1="477.03" x2="98.10" y2="477.03" stroke="#e02030" stroke-width="1.0" />
<line x1="131.90" y1="481.25" x2="131.90" y2="491.50" stroke="#e02030" stroke-width="1.0" />
<line x1="130.30" y1="481.25" x2="133.50" y2="481.25" stroke="#e02030" stroke-width="1.0" />
<line x1="130.30" y1="491.50" x2="133.50" y2="491.50" stroke="#e02030" stroke-width="1.0" />
<line x1="61.20" y1="504.77" x2="61.20" y2="510.80" stroke="#3a9a3a" stroke-width="1.0" />
<line x1="59.60" y1="504.77" x2="62.80" y2="504.77" stroke="#3a9a3a" stroke-width="1.0" />
<line x1="59.60" y1="510.80" x2="62.80" y2="510.80" stroke="#3a9a3a" stroke-width="1.0" />
<line x1="59.60" y1="463.37" x2="62.80" y2="466.57" stroke="#e02030" stroke-width="1.2" />
<line x1="59.60" y1="466.57" x2="62.80" y2="463.37" stroke="#e02030" stroke-width="1.2" />
<line x1="94.90" y1="470.00" x2="98.10" y2="473.20" stroke="#e02030" stroke-width="1.2" />
<line x1="94.90" y1="473.20" x2="98.10" y2="470.00" stroke="#e02030" stroke-width="1.2" />
<line x1="130.30" y1="484.47" x2="133.50" y2="487.67" stroke="#e02030" stroke-width="1.2" />
<line x1="130.30" y1="487.67" x2="133.50" y2="484.47" stroke="#e02030" stroke-width="1.2" />
<circle cx="61.20" cy="507.78" r="1.3" fill="#3a9a3a"/>
<circle cx="96.50" cy="512.00" r="1.3" fill="#3a9a3a"/>
<circle cx="131.90" cy="514.41" r="1.3" fill="#3a9a3a"/>
<text transform="translate(24.5,491.8) rotate(-90)" font-size="11.4" text-anchor="middle" fill="#111" stroke="#111" stroke-width="0.28">% Specific Lysis</text>
<text x="96.00" y="545.65" font-size="11.6" text-anchor="middle" fill="#111" font-weight="normal"  stroke="#111" stroke-width="0.28">Effector:Target</text>
<line x1="165.20" y1="469.80" x2="177.20" y2="469.80" stroke="#3a9a3a" stroke-width="1.9" />
<circle cx="171.20" cy="469.80" r="1.3" fill="#3a9a3a"/>
<text x="0" y="0" transform="translate(178.70,472.88) scale(0.98,1)" font-size="8.6" text-anchor="start" fill="#222" font-weight="normal"  stroke="#222" stroke-width="0.28">Naive Splenocytes</text>
<line x1="165.20" y1="487.30" x2="177.20" y2="487.30" stroke="#e02030" stroke-width="1.9" />
<line x1="169.40" y1="485.50" x2="173.00" y2="489.10" stroke="#e02030" stroke-width="1.2" />
<line x1="169.40" y1="489.10" x2="173.00" y2="485.50" stroke="#e02030" stroke-width="1.2" />
<text x="0" y="0" transform="translate(178.70,490.38) scale(0.98,1)" font-size="8.6" text-anchor="start" fill="#222" font-weight="normal"  stroke="#222" stroke-width="0.28">Anti-A20 Id + CpG Splenocytes</text>
</svg>
</body></html>
